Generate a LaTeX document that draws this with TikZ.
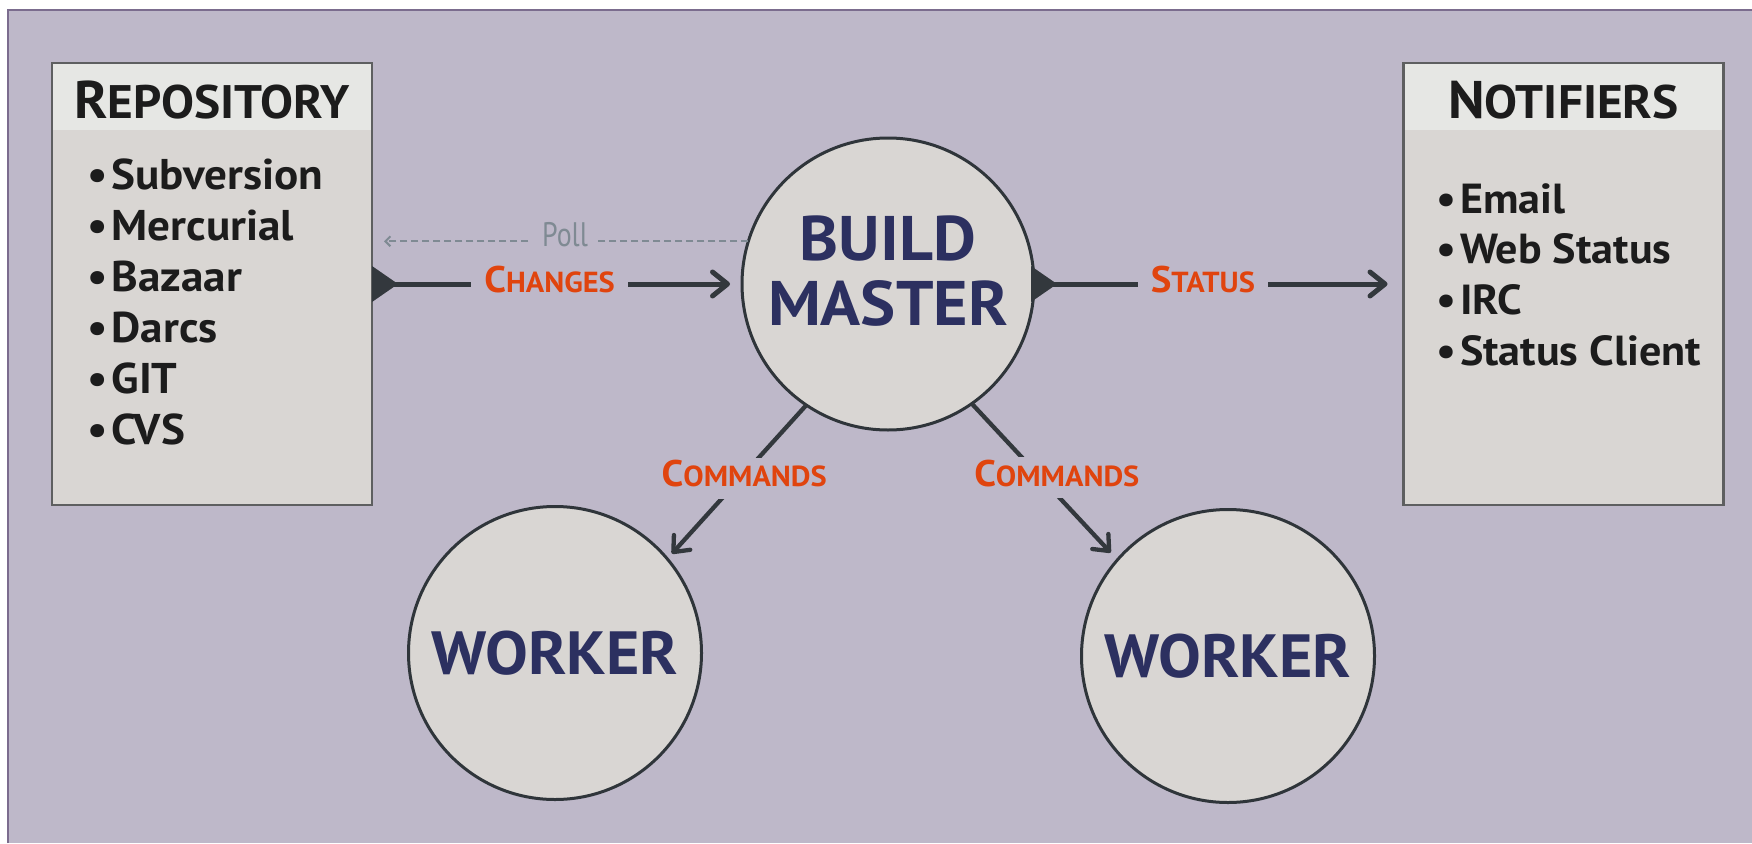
\documentclass[tikz,border=0pt]{standalone}
\usepackage{fontspec}
\setmainfont[FakeStretch=1.05]{PT Sans}
\newfontfamily\pollfont[FakeStretch=0.82]{PT Sans}
\usetikzlibrary{arrows.meta}
\definecolor{bgc}{HTML}{BEB8C9}
\definecolor{framec}{HTML}{7B6C8E}
\definecolor{bodyc}{HTML}{D9D6D3}
\definecolor{hdrc}{HTML}{E6E7E4}
\definecolor{boxline}{HTML}{5E5F60}
\definecolor{circline}{HTML}{2F353A}
\definecolor{navy}{HTML}{2C3060}
\definecolor{orangec}{HTML}{E0440E}
\definecolor{pollc}{HTML}{7F8A93}
\definecolor{arrowc}{HTML}{33383D}
\definecolor{inkc}{HTML}{1C1C1C}
\newcommand\mysc[4]{{\fontsize{#1}{#1}\selectfont #3}{\fontsize{#2}{#2}\selectfont #4}}
\begin{document}
\begin{tikzpicture}[x=1pt,y=-1pt,
  panel/.style={draw=boxline, line width=2.5pt, fill=bodyc, rectangle, inner sep=0pt, outer sep=0pt,
    minimum width=320pt, minimum height=442pt},
  hdrband/.style={fill=hdrc, rectangle, inner sep=0pt, text=inkc, font=\bfseries,
    minimum width=317.5pt, minimum height=66pt, anchor=north, text height=42pt, text depth=0pt},
  item/.style={anchor=base west, inner sep=0pt, text=inkc, font=\bfseries\fontsize{43}{43}\selectfont},
  circ/.style={circle, draw=circline, line width=3pt, fill=bodyc, inner sep=0pt, outer sep=0pt,
    text=navy, font=\bfseries},
  conn/.style={draw=arrowc, line width=5pt},
  conntwo/.style={draw=arrowc, line width=4.3pt},
  barb/.style={-{Straight Barb[round,length=15pt,width=24pt]}},
  barbtwo/.style={-{Straight Barb[round,length=13pt,width=22pt]}},
  lbl/.style={fill=bgc, text=orangec, font=\bfseries, inner xsep=13pt, inner ysep=3pt, yshift=4pt},
  cmdlbl/.style={fill=bgc, text=orangec, font=\bfseries, inner xsep=2pt, inner ysep=3pt,
    text height=26pt, text depth=9pt},
  pollline/.style={draw=pollc, line width=2pt, dash pattern=on 7pt off 4pt,
    -{Straight Barb[length=5pt,width=10pt]}},
  polllbl/.style={fill=bgc, text=pollc, font=\pollfont\fontsize{34}{34}\selectfont,
    inner xsep=10pt, inner ysep=2pt, text height=24pt, text depth=0pt, yshift=7pt},
]
\useasboundingbox (0,0) rectangle (1752,843);
\fill[white] (0,0) rectangle (1752,843);
\fill[bgc] (8,10) rectangle (1752,843);
\draw[framec, line width=2pt] (8,843) -- (8,10) -- (1752,10);

% Repository
\node[panel] (repo) at (212,284) {};
\node[hdrband] (repoh) at ([yshift=-1.25pt]repo.north) {\mysc{53}{47}{R}{EPOSITORY}};
\foreach \t [count=\i] in {Subversion,Mercurial,Bazaar,Darcs,GIT,CVS}
  \node[item] (ri\i) at (87,{189+51*(\i-1)}) {•\kern4pt\t};

% Notifiers
\node[panel] (notif) at (1563.5,284) {};
\node[hdrband] (notifh) at ([yshift=-1.25pt]notif.north) {\mysc{53}{47}{N}{OTIFIERS}};
\foreach \t [count=\i] in {Email,Web Status,IRC,Status Client}
  \node[item, font=\bfseries\fontsize{42}{42}\selectfont] (ni\i) at (1436,{213+50.7*(\i-1)}) {•\kern4pt\t};

% Circles
\node[circ, minimum size=292pt] (master) at (888,284) {};
\node[text=navy, font=\bfseries\fontsize{63}{65}\selectfont, align=center, inner sep=0pt] (mtxt) at (888,271) {BUILD\\MASTER};
\node[circ, minimum size=293pt, font=\bfseries\fontsize{61}{61}\selectfont] (w1) at (555,653) {WORKER};
\node[circ, minimum size=293pt, font=\bfseries\fontsize{61}{61}\selectfont] (w2) at (1228,656) {WORKER};

% Poll
\coordinate (pollstart) at (master.163.3);
\coordinate (pollend) at (repo.east |- pollstart);
\draw[pollline, shorten >=12pt] (pollstart) -- node[polllbl, pos=0.487] {Poll} (pollend);

% Changes
\draw[conn, barb, shorten >=12pt] (repo) -- node[lbl, pos=0.48] {\mysc{37}{29}{C}{HANGES}} (master);
\fill[arrowc] (repo.east) ++(0,-18) -- ++(26,18) -- ++(-26,18) -- cycle;

% Status
\draw[conn, barb, shorten >=16pt] (master) -- node[lbl, pos=0.457] {\mysc{37}{29}{S}{TATUS}} (notif);
\fill[arrowc] (master.east) ++(-3,-18) -- ++(26,18) -- ++(-26,18) -- cycle;

% Commands
\draw[conntwo, barbtwo, shorten >=7pt] (master.236) -- node[cmdlbl, pos=0.475, xshift=4pt] {\mysc{37}{29}{C}{OMMANDS}} (w1.40.5);
\draw[conntwo, barbtwo, shorten >=10pt] (master.305) -- node[cmdlbl, pos=0.474, xshift=16pt] {\mysc{37}{29}{C}{OMMANDS}} (w2.139);
\end{tikzpicture}
\end{document}
